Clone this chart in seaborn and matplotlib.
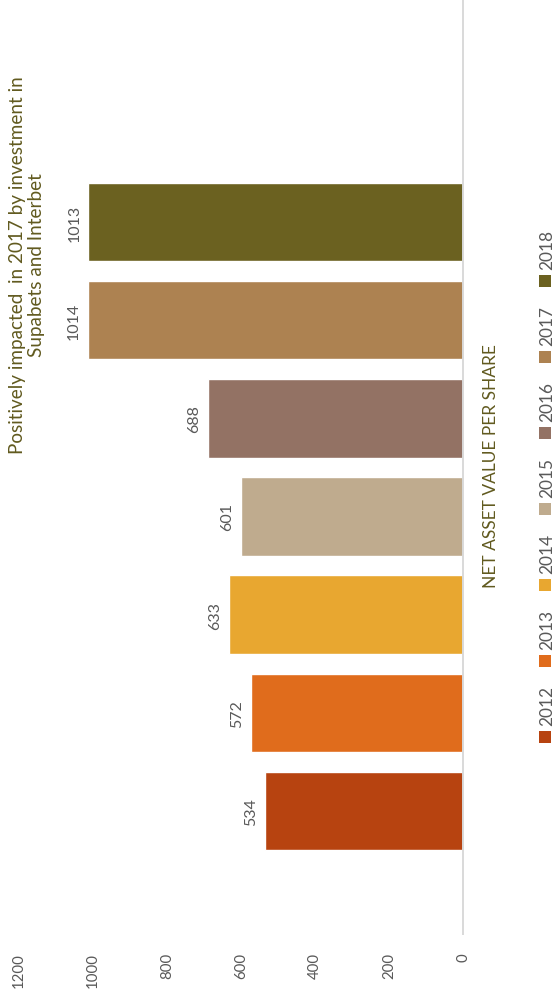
import matplotlib
matplotlib.use("Agg")
import matplotlib.pyplot as plt
from matplotlib.patches import Rectangle
import seaborn as sns
import pandas as pd

# ---- data ----
years = ["2012", "2013", "2014", "2015", "2016", "2017", "2018"]
values = [534, 572, 633, 601, 688, 1014, 1013]
colors = ["#B74310", "#E06C1C", "#E8A730", "#BFAB8E", "#937264", "#AD8251", "#6B6120"]
value_ticks = [0, 200, 400, 600, 800, 1000, 1200]
title_text = "Positively impacted  in 2017 by investment in\nSupabets and Interbet"
axis_title = "NET ASSET VALUE PER SHARE"

sns.set_style("white")
plt.rcParams["font.family"] = ["Lato", "DejaVu Sans"]

W, H = 555, 995
fig = plt.figure(figsize=(W / 100, H / 100), dpi=100)
# axes: value 1200 at x=19px, value 0 at x=463px; top y=1px, bottom y=935px
ax = fig.add_axes([19 / W, 1 - 935 / H, 444 / W, 934 / H])

df = pd.DataFrame({"Year": years, "Value": values})
order = years[::-1]
palette = dict(zip(years, colors))
sns.barplot(data=df, x="Value", y="Year", hue="Year", order=order,
            palette=palette, orient="h", width=0.8, saturation=1,
            legend=False, ax=ax)

ax.set_xlim(1200, 0)
ax.set_ylim(7.253, -2.261)

grey = "#595959"
olive = "#615A1F"

# value labels
for yr, v in zip(years, values):
    pos = order.index(yr)
    ax.annotate(str(v), xy=(v, pos), xytext=(-5, 0), textcoords="offset points",
                rotation=90, ha="right", va="center", color=grey, fontsize=11.5)

ax.set_xticks(value_ticks)
ax.set_xticklabels([str(t) for t in value_ticks], rotation=90, color=grey, fontsize=10.8)
ax.tick_params(axis="x", length=0, pad=13)
ax.set_yticks([])
ax.set_xlabel("")
ax.set_ylabel(axis_title, rotation=90, color=olive, fontsize=12.5,
              ha="center", va="center")
ax.yaxis.set_label_coords((491 - 19) / 444, (935 - 466) / 934)

for s in ["left", "top", "bottom"]:
    ax.spines[s].set_visible(False)
ax.spines["right"].set_color("#D9D9D9")
ax.spines["right"].set_linewidth(1.4)
ax.grid(False)

# title
fig.text(27 / W, 1 - 265 / H, title_text, rotation=90, ha="center", va="center",
         multialignment="center", color=olive, fontsize=13.6, linespacing=1.2)

# legend (rotated layout)
for i, (yr, col) in enumerate(zip(years, colors)):
    cy = 738 - 76 * i
    fig.add_artist(Rectangle((539 / W, 1 - (cy + 6) / H), 12 / W, 12 / H,
                             transform=fig.transFigure, facecolor=col, edgecolor="none"))
    fig.text(547 / W, 1 - (cy - 12) / H, yr, rotation=90, ha="center", va="bottom",
             color=grey, fontsize=12.4)

fig.savefig("out.png", dpi=100, facecolor="white")
